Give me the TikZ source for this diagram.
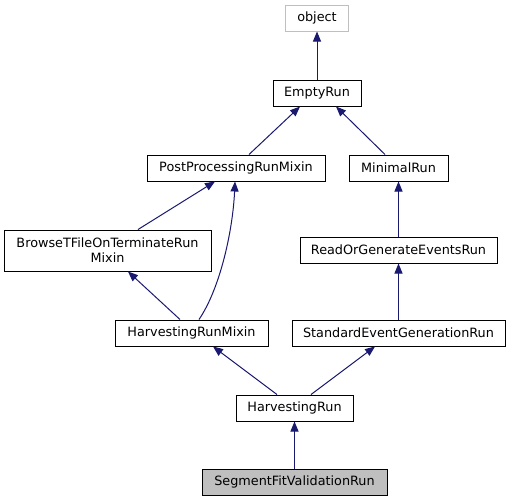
\documentclass[tikz,border=0pt]{standalone}
\usepackage{fontspec}
\setmainfont{DejaVu Sans}
\usepackage{tikz}
\usetikzlibrary{positioning, arrows.meta}
\definecolor{edgeb}{RGB}{25,25,112}
\definecolor{lgray}{RGB}{191,191,191}

\begin{document}
\begin{tikzpicture}[x=1pt, y=-1pt,
          cn/.style={rectangle, draw=black, line width=1pt, inner sep=0pt,
            minimum height=26pt, align=center, font=\fontsize{12.8}{15}\selectfont},
          xn/.style={cn, draw=lgray},
          sn/.style={cn, fill=lgray},
          inh/.style={-{Triangle[length=10pt, width=8pt]}, line width=1pt, draw=edgeb}]
        \useasboundingbox (0,0) rectangle (511,501);
        % classes
        \node[xn, minimum width=63pt] (obj) at (317,18) {object};
        \node[cn, minimum width=88pt] (empty) at (317,93) {EmptyRun};
        \node[cn, minimum width=178pt] (ppm) at (236,168) {PostProcessingRunMixin};
        \node[cn, minimum width=99pt] (minrun) at (398.5,168) {MinimalRun};
        \node[cn, minimum width=207pt, minimum height=41pt] (browse) at (107.5,250.5)
          {BrowseTFileOnTerminateRun\\Mixin};
        \node[cn, minimum width=197pt] (rog) at (398.5,250) {ReadOrGenerateEventsRun};
        \node[cn, minimum width=153pt] (hrm) at (191.5,333) {HarvestingRunMixin};
        \node[cn, minimum width=213pt] (segen) at (398.5,333) {StandardEventGenerationRun};
        \node[cn, minimum width=117pt] (hrun) at (294.5,408) {HarvestingRun};
        \node[sn, minimum width=185pt] (sfv) at (294.5,482) {SegmentFitValidationRun};
        % inheritance
        \draw [inh] (empty.north) to (obj.south);
        \draw [inh] ([xshift=13pt]ppm.north) to ([xshift=-17pt]empty.south);
        \draw [inh] ([xshift=-13.5pt]minrun.north) to ([xshift=19pt]empty.south);
        \draw [inh] (rog.north) to (minrun.south);
        \draw [inh] ([xshift=30.5pt]browse.north) to ([xshift=-21pt]ppm.south);
        \draw [inh] ([xshift=7.5pt]hrm.north) .. controls (221,287) and (233,228) .. ([xshift=-1pt]ppm.south);
        \draw [inh] ([xshift=-11.5pt]hrm.north) to ([xshift=20.5pt]browse.south);
        \draw [inh] (segen.north) to (rog.south);
        \draw [inh] ([xshift=-17.5pt]hrun.north) to ([xshift=21.5pt]hrm.south);
        \draw [inh] ([xshift=16.5pt]hrun.north) to ([xshift=-23.5pt]segen.south);
        \draw [inh] (sfv.north) to (hrun.south);
      \end{tikzpicture}
\end{document}
